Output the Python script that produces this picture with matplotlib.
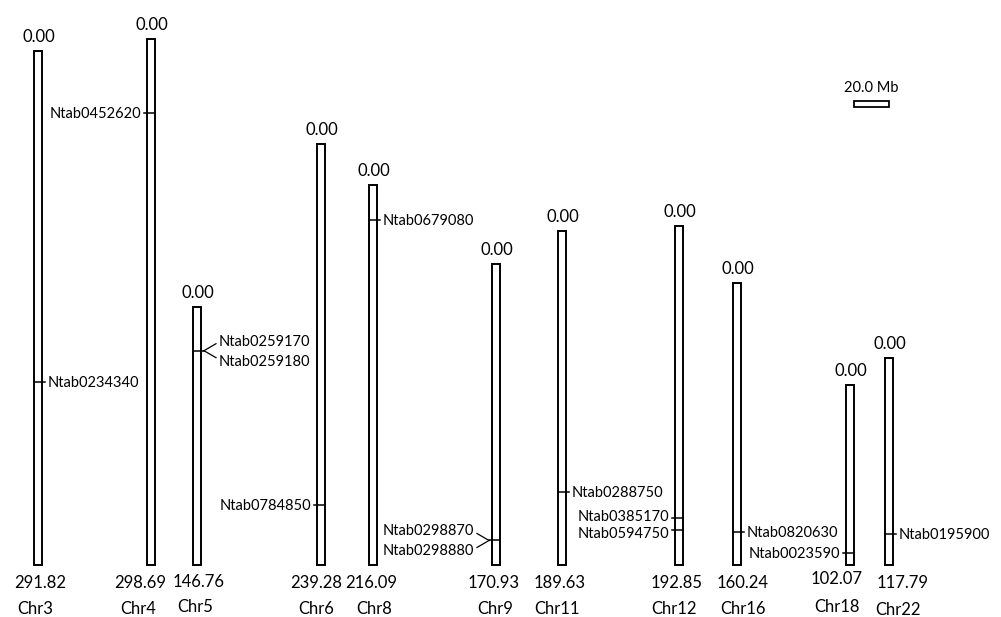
import matplotlib
matplotlib.use("Agg")
import matplotlib.pyplot as plt
from matplotlib.patches import Rectangle

plt.rcParams['font.family'] = ['Lato', 'DejaVu Sans']

# --- данные ---
chrom_names = ["Chr3", "Chr4", "Chr5", "Chr6", "Chr8", "Chr9", "Chr11", "Chr12", "Chr16", "Chr18", "Chr22"]
chrom_lengths = [291.82, 298.69, 146.76, 239.28, 216.09, 170.93, 189.63, 192.85, 160.24, 102.07, 117.79]

gene_names = ["Ntab0234340", "Ntab0452620", "Ntab0259170", "Ntab0259180", "Ntab0784850",
              "Ntab0679080", "Ntab0298870", "Ntab0298880", "Ntab0288750", "Ntab0385170",
              "Ntab0594750", "Ntab0820630", "Ntab0023590", "Ntab0195900"]
gene_chroms = ["Chr3", "Chr4", "Chr5", "Chr5", "Chr6", "Chr8", "Chr9", "Chr9", "Chr11", "Chr12",
               "Chr12", "Chr16", "Chr18", "Chr22"]
gene_pos = [188.0, 42.0, 25.0, 25.0, 205.0, 20.0, 157.0, 157.0, 148.0, 166.0, 173.0, 141.5, 95.5, 100.0]

scale_mb = 20.0

# --- раскладка (пиксели) ---
chrom_x = [38, 151, 197, 321, 373, 496, 562, 679, 737, 850, 889]
num_x = [40, 140, 199, 316, 371, 494, 560, 677, 743, 837, 903]     # подписи длины
name_x = [35, 138, 195, 316, 374, 495, 557, 674, 743, 837, 898]    # подписи хромосом
num_base = [588, 588, 587, 588, 588, 588, 588, 588, 588, 584, 588]
name_base = [614, 614, 612, 614, 614, 614, 614, 614, 614, 612, 615]
label_side = {"Chr3": 1, "Chr4": -1, "Chr5": 1, "Chr6": -1, "Chr8": 1, "Chr9": -1,
              "Chr11": 1, "Chr12": -1, "Chr16": 1, "Chr18": -1, "Chr22": 1}
label_nudge = {"Ntab0385170": -2, "Ntab0594750": 3}
PX = 1.76          # пикселей на Mb
BASE = 565         # нижний край хромосом
W, H = 1001, 617
BAR_W = 8
CAP = 5            # половина высоты прописных, px

fig = plt.figure(figsize=(W / 100, H / 100), dpi=100)
ax = fig.add_axes([0, 0, 1, 1])
ax.set_xlim(0, W)
ax.set_ylim(-(H - BASE) / PX, BASE / PX)
ax.axis('off')

def py(pix):
    # пиксельная координата y -> данные
    return (BASE - pix) / PX

xpos = dict(zip(chrom_names, chrom_x))
lens = dict(zip(chrom_names, chrom_lengths))

for i, (name, L, x) in enumerate(zip(chrom_names, chrom_lengths, chrom_x)):
    ax.add_patch(Rectangle((x - BAR_W / 2, 0), BAR_W, L, facecolor='white',
                           edgecolor='black', linewidth=1.4, zorder=2))
    ax.text(x + 1, L + 9 / PX, "0.00", ha='center', va='baseline', fontsize=12)
    ax.text(num_x[i], py(num_base[i]), f"{L:.2f}", ha='center', va='baseline', fontsize=12)
    ax.text(name_x[i], py(name_base[i]), name, ha='center', va='baseline', fontsize=12)

# группируем гены по положению (парные подписи)
groups = {}
for g, c, p in zip(gene_names, gene_chroms, gene_pos):
    groups.setdefault((c, p), []).append(g)

for (c, p), names in groups.items():
    x = xpos[c]
    y = lens[c] - p
    s = label_side[c]
    edge = x + s * BAR_W / 2
    ha = 'left' if s > 0 else 'right'
    ax.plot([x - s * BAR_W / 2, edge + s * 3], [y, y], color='black', lw=1.1, zorder=3)
    if len(names) == 1:
        ty = y - label_nudge.get(names[0], 0) / PX
        ax.text(edge + s * 6, ty - CAP / PX, names[0], ha=ha, va='baseline', fontsize=10.5)
    else:
        for k, g in enumerate(names):
            dy = (10 if k == 0 else -10) / PX
            ax.plot([edge + s * 3, edge + s * 15], [y, y + dy * 0.7], color='black', lw=0.9)
            ax.text(edge + s * 18, y + dy - CAP / PX, g, ha=ha, va='baseline', fontsize=10.5)

# масштабная линейка
sx, sy = 854, py(107)
ax.add_patch(Rectangle((sx, sy), scale_mb * PX, 6 / PX, facecolor='white',
                       edgecolor='black', linewidth=1.3))
ax.text(sx + scale_mb * PX / 2, py(92), f"{scale_mb:.1f} Mb", ha='center', va='baseline', fontsize=10.5)

fig.savefig("out.png", dpi=100)
